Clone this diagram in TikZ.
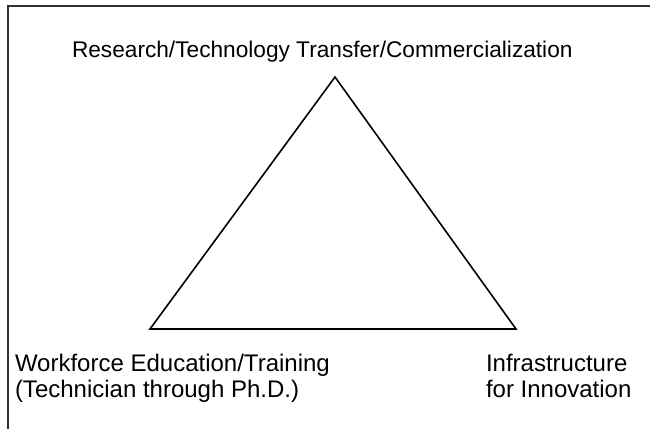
\documentclass[tikz,border=0pt]{standalone}
\usepackage{fontspec}
\setmainfont{Liberation Sans}
\begin{document}
\begin{tikzpicture}[x=0.75pt,y=-0.75pt,
  lbl/.style={inner sep=0pt,outer sep=0pt,align=left,font=\fontsize{17}{19.5}\selectfont},
  lblb/.style={lbl,font=\fontsize{18}{19.5}\selectfont},
  frame/.style={line width=1.5pt,draw=black!80},
  tri/.style={line width=1.2pt,draw=black,line join=miter}]
\useasboundingbox (0,0) rectangle (650,429);
\coordinate (fa) at (8,429);
\coordinate (fb) at (8,6);
\coordinate (fc) at (650,6);
\draw[frame] (fa) -- (fb) -- (fc);
\coordinate (top) at (335,77);
\coordinate (bl) at (150,329);
\coordinate (br) at (516,329);
\draw[tri] (top) -- (bl) -- (br) -- cycle;
\node[lbl,anchor=base west] (research) at (72,57) {Research/Technology Transfer/Commercialization};
\node[lblb,anchor=base west] (workforce) at (15,397) {Workforce Education/Training\\(Technician through Ph.D.)};
\node[lblb,anchor=base west] (infra) at (486,397) {Infrastructure\\for Innovation};
\end{tikzpicture}
\end{document}
